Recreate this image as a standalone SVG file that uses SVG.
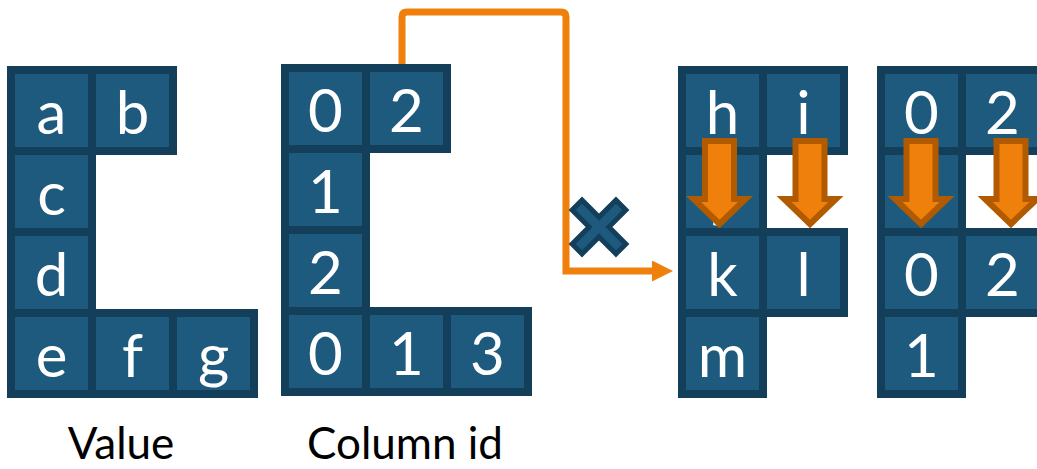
<svg xmlns="http://www.w3.org/2000/svg" width="1037" height="469" viewBox="0 0 1037 469">
  <style>
    .cell rect { fill: #1e5a7d; stroke: #133f5b; stroke-width: 8; }
    .cell text { fill: #ffffff; font-family: Lato, "DejaVu Sans", sans-serif; font-size: 60px; text-anchor: middle; }
    .label { fill: #000000; font-family: Lato, "Liberation Sans", sans-serif; font-size: 44px; text-anchor: middle; }
    .flow { fill: none; stroke: #f0800c; stroke-width: 7; }
    .drop { fill: #f0800c; stroke: #b25a00; stroke-width: 6; stroke-linejoin: miter; }
    .cross { fill: #1e5a7d; stroke: #133f5b; stroke-width: 5; }
  </style>
  <defs>
    <marker id="head" viewBox="0 0 21 21" refX="1" refY="10.5" markerWidth="21" markerHeight="21" markerUnits="userSpaceOnUse" orient="auto">
      <path d="M0,0 L21,10.5 L0,21 Z" fill="#f0800c"/>
    </marker>
  </defs>
  <rect width="1037" height="469" fill="#ffffff"/>

  <!-- connectors -->
  <g id="connectors">
    <path class="flow" d="M402,64 V17 Q402,12 407,12 H561 Q566,12 566,17 V271 H653" marker-end="url(#head)"/>
  </g>

  <!-- value array -->
  <g id="value" class="cell">
    <rect x="11" y="70" width="81" height="81"/><text x="51.5" y="134">a</text>
    <rect x="92" y="70" width="81" height="81"/><text x="132.5" y="134">b</text>
    <rect x="11" y="151" width="81" height="81"/><text x="51.5" y="215">c</text>
    <rect x="11" y="232" width="81" height="81"/><text x="51.5" y="296">d</text>
    <rect x="11" y="313" width="81" height="81"/><text x="51.5" y="377">e</text>
    <rect x="92" y="313" width="81" height="81"/><text x="132.5" y="377">f</text>
    <rect x="173" y="313" width="81" height="81"/><text x="213.5" y="377">g</text>
  </g>

  <!-- column id array -->
  <g id="column-id" class="cell">
    <rect x="285" y="68" width="81" height="81"/><text x="325.5" y="132">0</text>
    <rect x="366" y="68" width="81" height="81"/><text x="406.5" y="132">2</text>
    <rect x="285" y="149" width="81" height="81"/><text x="325.5" y="213">1</text>
    <rect x="285" y="230" width="81" height="81"/><text x="325.5" y="294">2</text>
    <rect x="285" y="311" width="81" height="81"/><text x="325.5" y="375">0</text>
    <rect x="366" y="311" width="81" height="81"/><text x="406.5" y="375">1</text>
    <rect x="447" y="311" width="81" height="81"/><text x="487.5" y="375">3</text>
  </g>

  <!-- rejected path marker -->
  <g id="cross">
    <path class="cross" transform="translate(599,227) rotate(45)" d="M-7,-31 H7 V-7 H31 V7 H7 V31 H-7 V7 H-31 V-7 H-7 Z"/>
  </g>

  <!-- shifted value array -->
  <g id="value-shifted" class="cell">
    <rect x="682" y="70" width="81" height="81"/><text x="722.5" y="134">h</text>
    <rect x="763" y="70" width="81" height="81"/><text x="803.5" y="134">i</text>
    <rect x="682" y="151" width="81" height="81"/><text x="722.5" y="215">j</text>
    <rect x="682" y="232" width="81" height="81"/><text x="722.5" y="296">k</text>
    <rect x="763" y="232" width="81" height="81"/><text x="803.5" y="296">l</text>
    <rect x="682" y="313" width="81" height="81"/><text x="722.5" y="377">m</text>
  </g>

  <!-- shifted column id array -->
  <g id="column-id-shifted" class="cell">
    <rect x="881" y="70" width="81" height="81"/><text x="921.5" y="134">0</text>
    <rect x="962" y="70" width="81" height="81"/><text x="1002.5" y="134">2</text>
    <rect x="881" y="151" width="81" height="81"/>
    <rect x="881" y="232" width="81" height="81"/><text x="921.5" y="296">0</text>
    <rect x="962" y="232" width="81" height="81"/><text x="1002.5" y="296">2</text>
    <rect x="881" y="313" width="81" height="81"/><text x="921.5" y="377">1</text>
  </g>

  <!-- downward shift arrows -->
  <g id="shift-arrows">
    <path class="drop" d="M705,141 H734 V199 H745.5 L719.5,224 L693.5,199 H705 Z"/>
    <path class="drop" d="M795.5,141 H824.5 V199 H836 L810,224 L784,199 H795.5 Z"/>
    <path class="drop" d="M906.5,141 H935.5 V199 H947 L921,224 L895,199 H906.5 Z"/>
    <path class="drop" d="M996.5,141 H1025.5 V199 H1037 L1011,224 L985,199 H996.5 Z"/>
  </g>

  <!-- captions -->
  <g id="captions">
    <text class="label" x="121" y="459">Value</text>
    <text class="label" x="405" y="459">Column id</text>
  </g>
</svg>
